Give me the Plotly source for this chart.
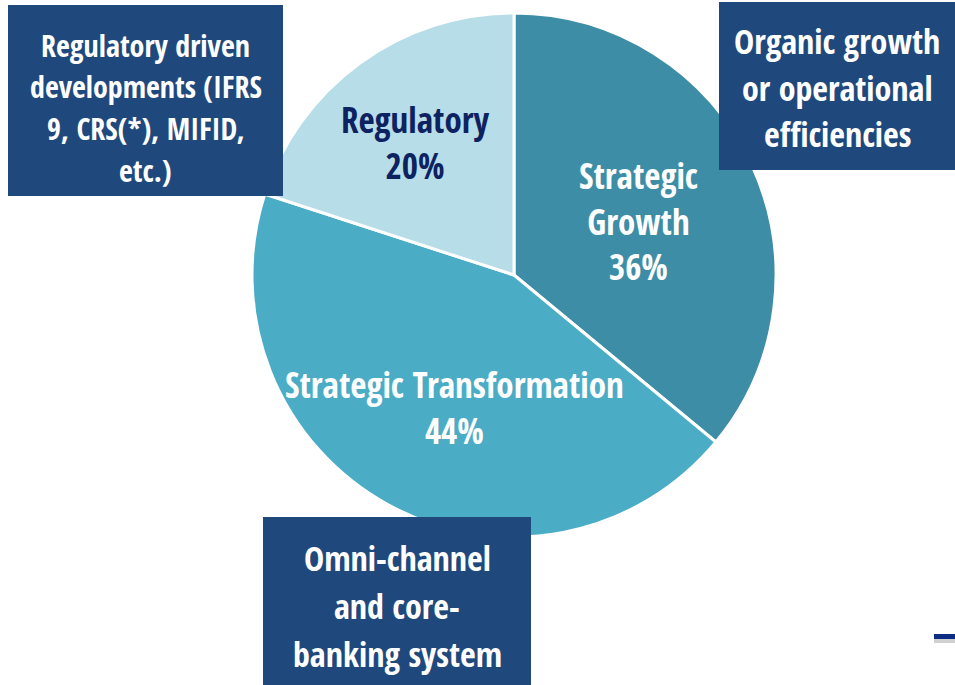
"""Project portfolio split by investment driver."""

import plotly.graph_objects as go

W, H = 955, 685

labels = ["Strategic Growth", "Strategic Transformation", "Regulatory"]
shares = [36, 44, 20]
slice_colors = ["#3E8DA6", "#4BACC6", "#B7DDE8"]
label_lines = [["Strategic", "Growth"], ["Strategic Transformation"], ["Regulatory"]]
label_colors = ["white", "white", "#0D2261"]

callouts = [
    ["Regulatory driven", "developments (IFRS", "9, CRS(*), MIFID,", "etc.)"],
    ["Organic growth", "or operational", "efficiencies"],
    ["Omni-channel", "and core-", "banking system"],
]

FONT = "Open Sans Condensed, Roboto Condensed, sans-serif"
BOX = "#1F497D"


def px(x):
    return x / W


def py(y):
    return 1 - y / H


fig = go.Figure()
fig.add_trace(
    go.Pie(
        labels=labels,
        values=shares,
        sort=False,
        direction="clockwise",
        rotation=0,
        marker={"colors": slice_colors, "line": {"color": "white", "width": 3}},
        textinfo="none",
        hoverinfo="label+percent",
        domain={"x": [px(252), px(776)], "y": [py(537), py(13)]},
        showlegend=False,
    )
)

# slice labels
label_pos = [(638, 221), (454, 407), (415, 142)]
for lines, share, color, (x, y) in zip(label_lines, shares, label_colors, label_pos):
    fig.add_annotation(
        x=px(x), y=py(y), xref="paper", yref="paper",
        xanchor="center", yanchor="middle",
        text="<br>".join(lines + [f"{share}%"]),
        showarrow=False,
        font={"family": FONT, "size": 35, "color": color, "weight": "bold"},
    )

# callout boxes: rectangle, first line centre, line step, font size
boxes = [(8, 5, 283, 196), (719, 2, 955, 170), (263, 517, 531, 685)]
text_rows = [(45, 41.7, 30), (41, 46.5, 34), (558, 48, 34)]
for lines, (x0, y0, x1, y1), (first, step, size) in zip(callouts, boxes, text_rows):
    fig.add_shape(
        type="rect", xref="paper", yref="paper",
        x0=px(x0), x1=px(x1), y0=py(y1), y1=py(y0),
        fillcolor=BOX, line={"width": 0}, layer="above",
    )
    for i, line in enumerate(lines):
        fig.add_annotation(
            x=px((x0 + x1) / 2), y=py(first + i * step), xref="paper", yref="paper",
            xanchor="center", yanchor="middle",
            text=line,
            showarrow=False,
            font={"family": FONT, "size": size, "color": "white", "weight": "bold"},
        )

# stray bar in the lower right corner
fig.add_shape(
    type="rect", xref="paper", yref="paper",
    x0=px(934), x1=px(955), y0=py(643), y1=py(638),
    fillcolor="#D0D0D0", line={"width": 0},
)
fig.add_shape(
    type="rect", xref="paper", yref="paper",
    x0=px(934), x1=px(955), y0=py(639), y1=py(634),
    fillcolor="#0C2D83", line={"width": 0},
)

fig.update_layout(
    width=W,
    height=H,
    margin={"l": 0, "r": 0, "t": 0, "b": 0},
    paper_bgcolor="white",
    plot_bgcolor="white",
)
fig.write_html(
    "out.html",
    config={"displayModeBar": False},
    post_script="document.body.style.margin='0';",
)
